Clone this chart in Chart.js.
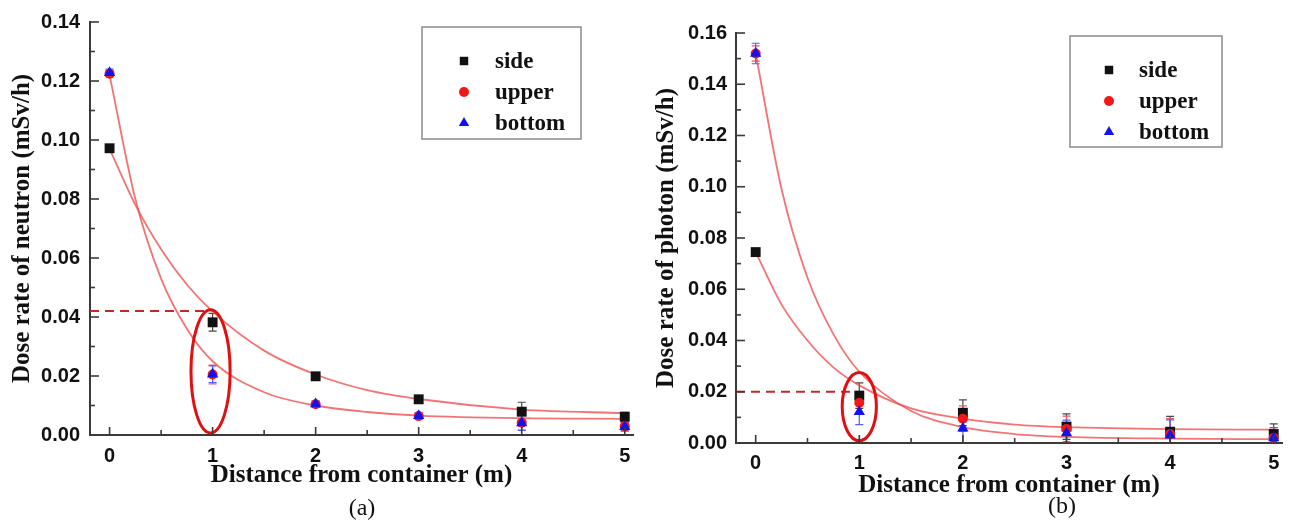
<!DOCTYPE html>
<html>
<head>
<meta charset="utf-8">
<script src="https://cdn.jsdelivr.net/npm/chart.js@4.4.1/dist/chart.umd.min.js"></script>
<style>
  body { margin: 0; background: #fff; }
  #wrap { position: relative; width: 1289px; height: 524px; overflow: hidden; }
  canvas { position: absolute; top: 0; }
  #neutronChart { left: 0; }
  #photonChart { left: 645px; }
  .cap { position: absolute; font-family: "Liberation Serif", serif; font-size: 24px; color: #111; transform: translate(-50%, -50%); }
</style>
</head>
<body>
<div id="wrap">
  <canvas id="neutronChart" width="640" height="524"></canvas>
  <canvas id="photonChart" width="644" height="524"></canvas>
  <div class="cap" style="left:362px;top:507px">(a)</div>
  <div class="cap" style="left:1062px;top:505px">(b)</div>
</div>
<script>
// measured points (distance in m, dose rate in mSv/h)
const distances = [0, 1, 2, 3, 4, 5];
const seriesNames = ["side", "upper", "bottom"];
const xTicks = [0, 1, 2, 3, 4, 5];
const neutronYTicks = [0, 0.02, 0.04, 0.06, 0.08, 0.10, 0.12, 0.14];
const photonYTicks = [0, 0.02, 0.04, 0.06, 0.08, 0.10, 0.12, 0.14, 0.16];

// (a) neutron
const neutronSide = [0.0972, 0.0382, 0.0199, 0.0121, 0.0079, 0.0062];
const neutronSideErr = [0.0012, 0.003, 0.0008, 0.0008, 0.0032, 0.0015];
const neutronUpper = [0.1225, 0.0205, 0.0104, 0.0064, 0.0042, 0.003];
const neutronUpperErr = [0.001, 0.0032, 0.001, 0.001, 0.0025, 0.0015];
const neutronBottom = [0.1228, 0.0206, 0.0105, 0.0065, 0.0041, 0.0028];
const neutronBottomErr = [0.0012, 0.0028, 0.001, 0.001, 0.0025, 0.0015];

// (b) photon
const photonSide = [0.0745, 0.0185, 0.0118, 0.0064, 0.0044, 0.0035];
const photonSideErr = [0.001, 0.005, 0.005, 0.005, 0.006, 0.004];
const photonUpper = [0.152, 0.0157, 0.0095, 0.0055, 0.0035, 0.002];
const photonUpperErr = [0.003, 0.004, 0.005, 0.005, 0.006, 0.004];
const photonBottom = [0.152, 0.0122, 0.0058, 0.0039, 0.003, 0.002];
const photonBottomErr = [0.004, 0.005, 0.006, 0.005, 0.006, 0.004];

// fitted curves
const fitX = [0, 0.25, 0.5, 0.75, 1, 1.5, 2, 2.5, 3, 4, 5];
const neutronSideFit = [0.097, 0.078, 0.063, 0.051, 0.0418, 0.0286, 0.0205, 0.0152, 0.0122, 0.0086, 0.0074];
const neutronBottomFit = [0.122, 0.080, 0.053, 0.036, 0.025, 0.0145, 0.0100, 0.0078, 0.0066, 0.0057, 0.0055];
const photonSideFit = [0.0745, 0.054, 0.040, 0.0295, 0.0225, 0.0135, 0.0095, 0.0072, 0.0062, 0.0054, 0.0052];
const photonBottomFit = [0.152, 0.099, 0.0645, 0.0425, 0.0278, 0.0125, 0.0062, 0.0035, 0.0024, 0.0017, 0.0015];

// dashed reference line and the ring around x = 1
const neutronRefX = [-0.19, 0.93];
const neutronRefLevel = 0.042;
const neutronRing = [0.98, 0.0216, 0.19, 0.0209]; // cx, cy, rx, ry in data units
const photonRefX = [-0.19, 0.93];
const photonRefLevel = 0.020;
const photonRing = [1.0, 0.0142, 0.165, 0.0133];

function pts(xs, ys) {
  return xs.map((x, i) => ({ x: x, y: ys[i] }));
}

const markerStyles = [
  { pointStyle: "rect", color: "#111", err: "#4a4a4a", r: 7, lr: 6 },
  { pointStyle: "circle", color: "#f01818", err: "#e85a6a", r: 5, lr: 5 },
  { pointStyle: "triangle", color: "#1212ee", err: "#5a5aff", r: 6.5, lr: 6 }
];

function drawMarker(ctx, style, r, x, y) {
  ctx.fillStyle = style.color;
  Chart.helpers.drawPoint(ctx, { pointStyle: style.pointStyle, rotation: 0, radius: r, borderWidth: 0 }, x, y);
}

function makeChart(id, c) {
  const ctx = document.getElementById(id).getContext("2d");

  const measured = [c.side, c.upper, c.bottom].map((vals, k) => ({
    label: seriesNames[k],
    data: pts(distances, vals),
    err: [c.sideErr, c.upperErr, c.bottomErr][k],
    errColor: markerStyles[k].err,
    pointStyle: markerStyles[k].pointStyle,
    pointRadius: markerStyles[k].r,
    backgroundColor: markerStyles[k].color,
    borderColor: markerStyles[k].color,
    borderWidth: 0,
    order: 2 - k
  }));

  const fitLine = (vals) => ({
    label: "fit",
    data: pts(fitX, vals),
    showLine: true,
    pointRadius: 0,
    borderColor: "rgba(240,80,80,0.8)",
    borderWidth: 1.8,
    cubicInterpolationMode: "monotone",
    order: 3
  });

  const ref = {
    label: "ref",
    data: c.refX.map(x => ({ x: x, y: c.refLevel })),
    showLine: true,
    pointRadius: 0,
    borderColor: "#c62828",
    borderWidth: 2,
    borderDash: [9, 6],
    order: 3
  };

  // error bars under the markers
  const errorBars = {
    id: "errorBars",
    beforeDatasetsDraw(chart) {
      const { ctx, chartArea: a, scales: { x, y } } = chart;
      ctx.save();
      ctx.beginPath();
      ctx.rect(a.left, a.top, a.right - a.left, a.bottom - a.top);
      ctx.clip();
      ctx.lineWidth = 1.2;
      chart.data.datasets.forEach(ds => {
        if (!ds.err) return;
        ctx.strokeStyle = ds.errColor;
        ds.data.forEach((p, i) => {
          const px = x.getPixelForValue(p.x);
          const hi = y.getPixelForValue(p.y + ds.err[i]);
          const lo = y.getPixelForValue(p.y - ds.err[i]);
          ctx.beginPath();
          ctx.moveTo(px, hi); ctx.lineTo(px, lo);
          ctx.moveTo(px - 4, hi); ctx.lineTo(px + 4, hi);
          ctx.moveTo(px - 4, lo); ctx.lineTo(px + 4, lo);
          ctx.stroke();
        });
      });
      ctx.restore();
    }
  };

  // inward major and minor ticks
  const axisTicks = {
    id: "axisTicks",
    afterDraw(chart) {
      const { ctx, chartArea: a, scales: { x, y } } = chart;
      ctx.save();
      ctx.strokeStyle = "#3a3a3a";
      ctx.lineWidth = 1.6;
      const seg = (x1, y1, x2, y2) => { ctx.beginPath(); ctx.moveTo(x1, y1); ctx.lineTo(x2, y2); ctx.stroke(); };
      const xs = x.ticks.map(t => t.value);
      xs.forEach((v, i) => {
        const p = x.getPixelForValue(v);
        seg(p, a.bottom, p, a.bottom - 8);
        if (i < xs.length - 1) {
          const m = x.getPixelForValue((v + xs[i + 1]) / 2);
          seg(m, a.bottom, m, a.bottom - 5);
        }
      });
      const ys = y.ticks.map(t => t.value);
      ys.forEach((v, i) => {
        const p = y.getPixelForValue(v);
        seg(a.left, p, a.left + 9, p);
        if (i < ys.length - 1) {
          const m = y.getPixelForValue((v + ys[i + 1]) / 2);
          seg(a.left, m, a.left + 5, m);
        }
      });
      ctx.restore();
    }
  };

  // red ring around the 1 m points
  const ring = {
    id: "ring",
    afterDatasetsDraw(chart) {
      const { ctx, scales: { x, y } } = chart;
      const [cx, cy, rx, ry] = c.ring;
      const px = x.getPixelForValue(cx), py = y.getPixelForValue(cy);
      const prx = Math.abs(x.getPixelForValue(cx + rx) - px);
      const pry = Math.abs(y.getPixelForValue(cy + ry) - py);
      ctx.save();
      ctx.strokeStyle = "#e01010";
      ctx.lineWidth = 3;
      ctx.beginPath();
      ctx.ellipse(px, py, prx, pry, 0, 0, Math.PI * 2);
      ctx.stroke();
      ctx.restore();
    }
  };

  // boxed legend in the upper right
  const boxLegend = {
    id: "boxLegend",
    afterDraw(chart) {
      const ctx = chart.ctx;
      const b = c.legend;
      ctx.save();
      ctx.fillStyle = "#fff";
      ctx.fillRect(b.x, b.y, b.w, b.h);
      ctx.strokeStyle = "#8a8a8a";
      ctx.lineWidth = 1.5;
      ctx.strokeRect(b.x, b.y, b.w, b.h);
      ctx.font = "bold 23px 'Liberation Serif', serif";
      ctx.textBaseline = "middle";
      seriesNames.forEach((name, k) => {
        const ry = b.y + b.firstRow + k * b.rowGap;
        drawMarker(ctx, markerStyles[k], markerStyles[k].lr, b.x + b.markerX, ry);
        ctx.fillStyle = "#111";
        ctx.fillText(name, b.x + b.textX, ry + 1);
      });
      ctx.restore();
    }
  };

  const tickFont = { family: "'Liberation Sans', Arial, sans-serif", weight: "bold", size: 20 };
  const titleFont = { family: "'Liberation Serif', 'Times New Roman', serif", weight: "bold", size: 25 };

  return new Chart(ctx, {
    type: "scatter",
    data: { datasets: measured.concat([fitLine(c.sideFit), fitLine(c.bottomFit), ref]) },
    options: {
      responsive: false,
      animation: false,
      events: [],
      layout: { padding: { top: c.padTop, left: 0, right: 0, bottom: 0 } },
      plugins: { legend: { display: false }, tooltip: { enabled: false } },
      scales: {
        x: {
          type: "linear",
          min: -0.19,
          max: 5.08,
          afterBuildTicks: s => { s.ticks = xTicks.map(v => ({ value: v })); },
          afterFit: s => { s.height = c.xHeight; },
          grid: { display: false, drawTicks: false },
          border: { display: true, color: "#3a3a3a", width: 2 },
          ticks: { font: tickFont, color: "#111", padding: c.xTickPad, maxRotation: 0, autoSkip: false, callback: v => String(v) },
          title: { display: true, text: "Distance from container (m)", font: titleFont, color: "#111", padding: { top: 0, bottom: c.xTitlePad } }
        },
        y: {
          type: "linear",
          min: 0,
          max: c.yTicks[c.yTicks.length - 1],
          afterBuildTicks: s => { s.ticks = c.yTicks.map(v => ({ value: v })); },
          afterFit: s => { s.width = c.yWidth; },
          grid: { display: false, drawTicks: false },
          border: { display: true, color: "#3a3a3a", width: 2 },
          ticks: { font: tickFont, color: "#111", padding: c.yTickPad, autoSkip: false, callback: v => v.toFixed(2) },
          title: { display: true, text: c.yTitle, font: titleFont, color: "#111", padding: { top: c.yTitlePad, bottom: 0 } }
        }
      }
    },
    plugins: [errorBars, ring, axisTicks, boxLegend]
  });
}

makeChart("neutronChart", {
  side: neutronSide, sideErr: neutronSideErr,
  upper: neutronUpper, upperErr: neutronUpperErr,
  bottom: neutronBottom, bottomErr: neutronBottomErr,
  sideFit: neutronSideFit, bottomFit: neutronBottomFit,
  refX: neutronRefX, refLevel: neutronRefLevel, ring: neutronRing,
  yTicks: neutronYTicks,
  yTitle: "Dose rate of neutron (mSv/h)",
  padTop: 20, yWidth: 90, xHeight: 89,
  xTickPad: 9, yTickPad: 10, xTitlePad: 33, yTitlePad: 8,
  legend: { x: 422, y: 27, w: 159, h: 112, firstRow: 34, rowGap: 31, markerX: 42, textX: 73 }
});

makeChart("photonChart", {
  side: photonSide, sideErr: photonSideErr,
  upper: photonUpper, upperErr: photonUpperErr,
  bottom: photonBottom, bottomErr: photonBottomErr,
  sideFit: photonSideFit, bottomFit: photonBottomFit,
  refX: photonRefX, refLevel: photonRefLevel, ring: photonRing,
  yTicks: photonYTicks,
  yTitle: "Dose rate of photon (mSv/h)",
  padTop: 33, yWidth: 91, xHeight: 81,
  xTickPad: 8, yTickPad: 9, xTitlePad: 23, yTitlePad: 7,
  legend: { x: 425, y: 36, w: 152, h: 111, firstRow: 34, rowGap: 31, markerX: 39, textX: 69 }
});
</script>
</body>
</html>
